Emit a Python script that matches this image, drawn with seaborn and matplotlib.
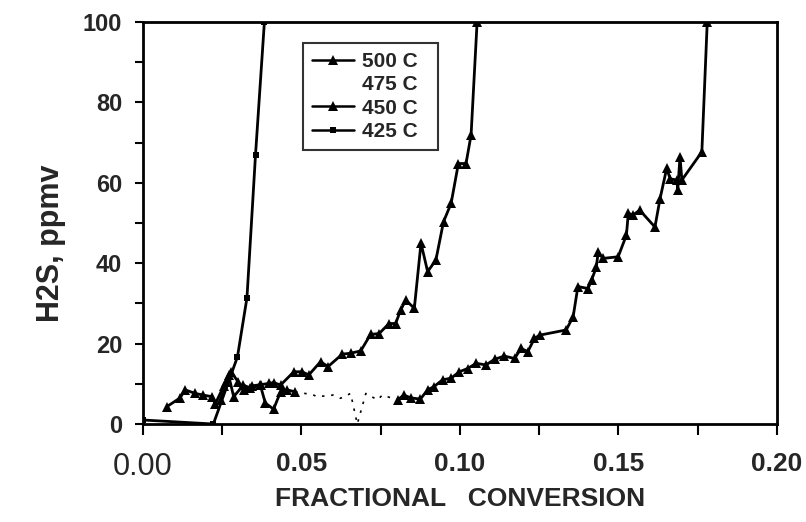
import numpy as np
import pandas as pd
import matplotlib
matplotlib.use("Agg")
import matplotlib.pyplot as plt
from matplotlib.lines import Line2D
from matplotlib.ticker import MultipleLocator, FixedLocator
import seaborn as sns

# H2S breakthrough vs. fractional conversion at four sorbent temperatures
conv_500_early = [0.0075, 0.0117, 0.0133, 0.0165, 0.0190, 0.0217, 0.0228, 0.0255,
                  0.0270, 0.0286, 0.0317, 0.0339, 0.0370, 0.0386, 0.0412, 0.0434,
                  0.0455, 0.0480]
h2s_500_early = [4.3, 6.5, 8.5, 7.6, 7.2, 6.8, 5.0, 9.5,
                 12.2, 6.8, 9.7, 8.9, 9.7, 5.2, 3.7, 8.0,
                 8.5, 8.0]

conv_500_late = [0.0803, 0.0823, 0.0845, 0.0875, 0.0898, 0.0918, 0.0945, 0.0972,
                 0.0998, 0.1024, 0.1051, 0.1082, 0.1109, 0.1140, 0.1172, 0.1193,
                 0.1214, 0.1235, 0.1251, 0.1335, 0.1357, 0.1372, 0.1404, 0.1415,
                 0.1430, 0.1436, 0.1451, 0.1499, 0.1525, 0.1531, 0.1546, 0.1567,
                 0.1615, 0.1631, 0.1652, 0.1663, 0.1684, 0.1687, 0.1694, 0.1700,
                 0.1763, 0.1780]
h2s_500_late = [6.0, 7.2, 6.5, 6.2, 8.5, 9.3, 11.0, 11.4,
                13.0, 13.8, 15.1, 14.7, 16.1, 16.9, 16.3, 18.8,
                18.0, 21.3, 22.1, 23.4, 26.7, 34.2, 33.7, 35.8,
                39.0, 42.8, 41.2, 41.6, 47.0, 52.4, 52.0, 53.2,
                49.0, 56.0, 63.6, 61.0, 60.7, 58.2, 66.5, 60.7,
                67.7, 100.0]

conv_475 = [0.0480, 0.0535, 0.0550, 0.0600, 0.0623, 0.0655, 0.0676, 0.0703,
            0.0740, 0.0755, 0.0803]
h2s_475 = [8.0, 7.3, 6.8, 7.2, 6.4, 7.6, 0.0, 7.6,
           6.0, 7.2, 6.0]

conv_450 = [0.0245, 0.0262, 0.0278, 0.0300, 0.0320, 0.0345, 0.0372, 0.0397,
            0.0412, 0.0434, 0.0476, 0.0502, 0.0523, 0.0560, 0.0584, 0.0629,
            0.0655, 0.0687, 0.0718, 0.0745, 0.0776, 0.0797, 0.0813, 0.0829,
            0.0856, 0.0877, 0.0898, 0.0924, 0.0948, 0.0972, 0.0995, 0.1019,
            0.1035, 0.1054]
h2s_450 = [6.0, 10.5, 13.0, 10.5, 8.5, 9.5, 9.8, 10.1,
           10.3, 9.7, 13.0, 13.0, 12.2, 15.5, 14.3, 17.4,
           17.6, 18.2, 22.3, 22.5, 25.0, 25.0, 28.4, 30.8,
           28.8, 45.0, 37.9, 40.8, 50.3, 54.9, 64.8, 64.8,
           71.9, 100.0]

conv_425 = [0.0000, 0.0222, 0.0298, 0.0328, 0.0355, 0.0383]
h2s_425 = [1.0, 0.0, 16.7, 31.4, 67.0, 100.0]

x_ticks = [0.00, 0.05, 0.10, 0.15, 0.20]
x_tick_labels = ["0.00", "0.05", "0.10", "0.15", "0.20"]
y_ticks = [0, 20, 40, 60, 80, 100]
legend_labels = ["500 C", "475 C", "450 C", "425 C"]


def frame(conv, h2s, temp, seg):
    return pd.DataFrame({"conv": conv, "h2s": h2s, "temp": temp, "seg": seg})


df = pd.concat([
    frame(conv_500_early, h2s_500_early, "500 C", 0),
    frame(conv_500_late, h2s_500_late, "500 C", 1),
    frame(conv_475, h2s_475, "475 C", 0),
    frame(conv_450, h2s_450, "450 C", 0),
    frame(conv_425, h2s_425, "425 C", 0),
], ignore_index=True)

sns.set_theme(style="white")
plt.rcParams["font.family"] = ["Liberation Sans", "DejaVu Sans"]
plt.rcParams["font.weight"] = "bold"

fig = plt.figure(figsize=(8.06, 5.22), dpi=100)
ax = fig.add_axes([0.1774, 0.1877, 0.7866, 0.7701])

line_kw = dict(x="conv", y="h2s", units="seg", estimator=None, sort=False,
               color="black", ax=ax, legend=False)

sns.lineplot(data=df[df.temp == "500 C"], marker="^", markersize=7,
             markeredgewidth=0, linewidth=2.0, **line_kw)
sns.lineplot(data=df[df.temp == "475 C"], linewidth=1.2,
             linestyle=(0, (1.5, 4)), **line_kw)
sns.lineplot(data=df[df.temp == "450 C"], marker="^", markersize=7,
             markeredgewidth=0, linewidth=2.0, **line_kw)
sns.lineplot(data=df[df.temp == "425 C"], marker="s", markersize=5,
             markeredgewidth=0, linewidth=2.0, **line_kw)

ax.set_xlim(0, 0.2)
ax.set_ylim(0, 100)

ax.xaxis.set_major_locator(FixedLocator(x_ticks))
ax.xaxis.set_minor_locator(MultipleLocator(0.025))
ax.yaxis.set_major_locator(FixedLocator(y_ticks))
ax.yaxis.set_minor_locator(MultipleLocator(10))
ax.set_xticklabels(x_tick_labels)

ax.tick_params(axis="both", which="both", direction="out", color="black",
               width=1.5, left=True, bottom=True)
ax.tick_params(axis="y", which="both", length=6, pad=9, labelsize=17)
ax.tick_params(axis="x", which="both", length=8, pad=12, labelsize=19)
for lab in ax.get_yticklabels() + ax.get_xticklabels():
    lab.set_fontweight("bold")
first = ax.get_xticklabels()[0]
first.set_fontweight("normal")
first.set_family(["Liberation Sans Narrow", "Liberation Sans", "DejaVu Sans"])
first.set_fontsize(22)

for side in ["left", "bottom", "top", "right"]:
    ax.spines[side].set_color("black")
    ax.spines[side].set_linewidth(2.0)

ax.set_xlabel("FRACTIONAL   CONVERSION", fontsize=19, fontweight="bold",
              labelpad=4)
ax.set_ylabel("H2S, ppmv", fontsize=22, fontweight="bold", labelpad=12)
ax.yaxis.label.set_y(0.45)

handles = [
    Line2D([], [], color="black", marker="^", markersize=6.5, lw=1.8,
           markeredgewidth=0),
    Line2D([], [], color="none"),
    Line2D([], [], color="black", marker="^", markersize=6.5, lw=1.8,
           markeredgewidth=0),
    Line2D([], [], color="black", marker="s", markersize=5, lw=1.8,
           markeredgewidth=0),
]
leg = ax.legend(handles, legend_labels, loc="upper left",
                bbox_to_anchor=(0.252, 0.5, 0.213, 0.448), mode="expand",
                borderaxespad=0, frameon=True, fancybox=False,
                edgecolor="black", handlelength=2.0, handletextpad=0.4,
                labelspacing=0.2, borderpad=0.45,
                prop={"size": 15, "weight": "bold"})
leg.get_frame().set_linewidth(1.5)

fig.savefig("out.png", dpi=100)
